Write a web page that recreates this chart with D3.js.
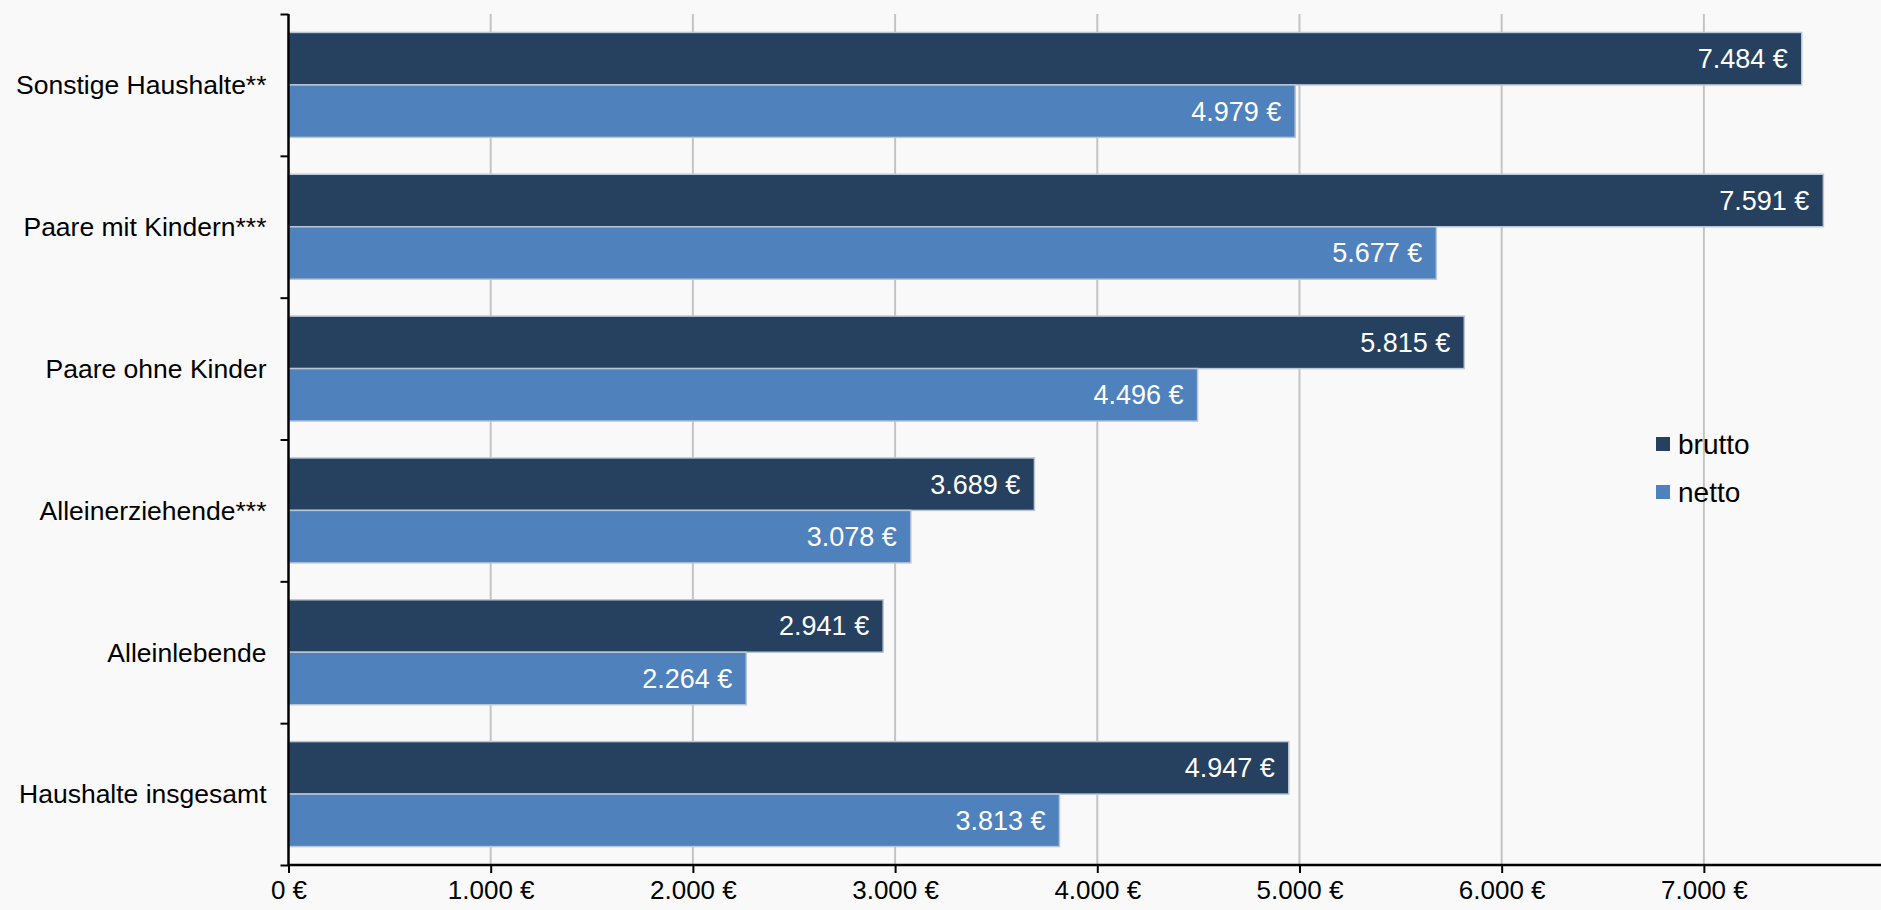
<!DOCTYPE html>
<html lang="de">
<head>
<meta charset="utf-8">
<title>Haushaltseinkommen brutto / netto</title>
<script src="https://d3js.org/d3.v7.min.js"></script>
<style>
body{margin:0;background:#f9f9f9;}
svg{display:block;font-family:"Liberation Sans",Arial,sans-serif;}
</style>
</head>
<body>
<div id="chart"></div>
<script>
// data, top to bottom
var categories = ["Sonstige Haushalte**","Paare mit Kindern***","Paare ohne Kinder","Alleinerziehende***","Alleinlebende","Haushalte insgesamt"]
var brutto = [7484,7591,5815,3689,2941,4947]
var netto = [4979,5677,4496,3078,2264,3813]
var seriesNames = ["brutto","netto"]
var xTicks = [0,1000,2000,3000,4000,5000,6000,7000]

var colors = {brutto:"#26405f", netto:"#4f81bd"}

var w = 1881, h = 910
var plotLeft = 288.5, plotRight = 1881, plotTop = 14, plotBottom = 865

var svg = d3.select("#chart").append("svg")
    .attr("width",w).attr("height",h)

svg.append("rect").attr("width",w).attr("height",h).attr("fill","#f9f9f9")

var xScale = d3.scaleLinear()
    .domain([0,7876])
    .range([plotLeft,plotRight])

var yScale = d3.scaleBand()
    .domain(categories)
    .range([plotTop,plotBottom])
    .paddingInner(0.26)
    .paddingOuter(0.13)

var inner = d3.scaleBand().domain(seriesNames).range([0,yScale.bandwidth()])

var fmt = function(v){ return d3.format(",")(v).replace(/,/g,".") + " €" }

// gridlines
svg.append("g").selectAll("line")
    .data(xTicks.filter(function(d){return d>0}))
    .enter().append("line")
    .attr("x1",function(d){return xScale(d)}).attr("x2",function(d){return xScale(d)})
    .attr("y1",plotTop).attr("y2",plotBottom)
    .attr("stroke","#c4c4c4").attr("stroke-width",2)

var rows = categories.map(function(c,i){
    return {cat:c, vals:[{s:"brutto",v:brutto[i]},{s:"netto",v:netto[i]}]}
})

var groups = svg.append("g").selectAll("g")
    .data(rows).enter().append("g")
    .attr("transform",function(d){return "translate(0,"+yScale(d.cat)+")"})

groups.selectAll("rect")
    .data(function(d){return d.vals})
    .enter().append("rect")
    .attr("x",xScale(0))
    .attr("y",function(d){return inner(d.s)})
    .attr("width",function(d){return xScale(d.v)-xScale(0)})
    .attr("height",inner.bandwidth())
    .attr("fill",function(d){return colors[d.s]})
    .attr("stroke","#b9c6d6").attr("stroke-width",1.5)

groups.selectAll("text")
    .data(function(d){return d.vals})
    .enter().append("text")
    .attr("x",function(d){return xScale(d.v)-14})
    .attr("y",function(d){return inner(d.s)+inner.bandwidth()/2})
    .attr("dy","0.35em")
    .attr("text-anchor","end")
    .attr("fill","#ffffff")
    .style("font-size","27px")
    .text(function(d){return fmt(d.v)})

// x axis
var xAxis = d3.axisBottom(xScale)
    .tickValues(xTicks)
    .tickSize(8)
    .tickPadding(8)
    .tickFormat(fmt)
var gx = svg.append("g")
    .attr("transform","translate(0,"+plotBottom+")")
    .call(xAxis)
gx.attr("font-family",null)
gx.select(".domain").attr("stroke","#000").attr("stroke-width",2.5)
    .attr("d","M"+plotLeft+",0H"+plotRight)
gx.selectAll(".tick line").attr("stroke","#000").attr("stroke-width",2)
gx.selectAll("text").style("font-size","26px").attr("fill","#000")

// y axis: ticks at band boundaries
var yLine = d3.scaleLinear().domain([0,categories.length]).range([plotTop,plotBottom])
var yAxis = d3.axisLeft(yLine)
    .tickValues(d3.range(categories.length+1))
    .tickSize(8)
    .tickFormat("")
var gy = svg.append("g")
    .attr("transform","translate("+plotLeft+",0)")
    .call(yAxis)
gy.select(".domain").attr("stroke","#000").attr("stroke-width",2.5)
    .attr("d","M0,"+plotTop+"V"+plotBottom)
gy.selectAll(".tick line").attr("stroke","#000").attr("stroke-width",2)

svg.append("g").selectAll("text")
    .data(categories).enter().append("text")
    .attr("x",plotLeft-22)
    .attr("y",function(d){return yScale(d)+yScale.bandwidth()/2})
    .attr("dy","0.35em")
    .attr("text-anchor","end")
    .style("font-size","26.5px")
    .attr("fill","#000")
    .text(function(d){return d})

// legend
var legend = svg.append("g").selectAll("g")
    .data(seriesNames).enter().append("g")
    .attr("transform",function(d,i){return "translate(1656,"+(444+i*48)+")"})
legend.append("rect")
    .attr("x",0).attr("y",-7).attr("width",14).attr("height",14)
    .attr("fill",function(d){return colors[d]})
legend.append("text")
    .attr("x",22).attr("dy","0.35em")
    .style("font-size","28px")
    .attr("fill","#000")
    .text(function(d){return d})
</script>
</body>
</html>
